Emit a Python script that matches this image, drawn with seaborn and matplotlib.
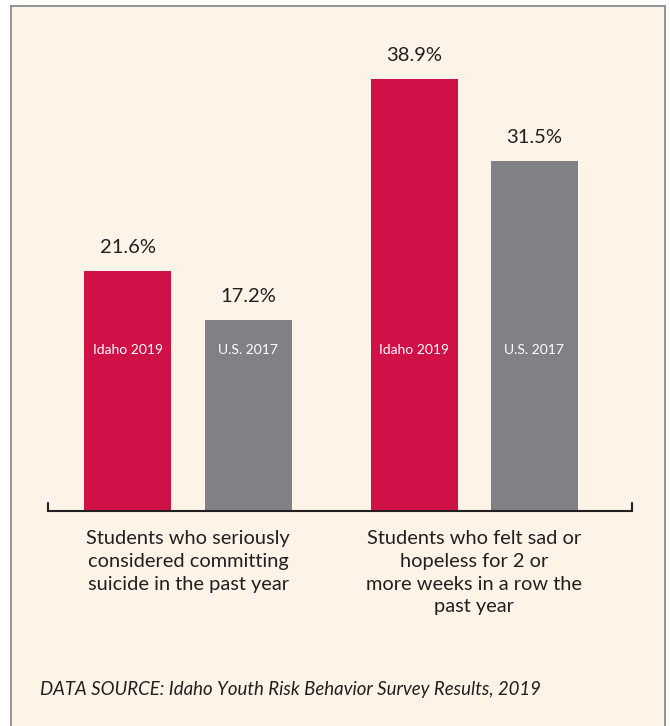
import matplotlib
matplotlib.use('Agg')
import matplotlib.pyplot as plt
import seaborn as sns
import pandas as pd
from matplotlib.patches import Rectangle

# data
categories = ['Students who seriously\nconsidered committing\nsuicide in the past year',
              'Students who felt sad or\nhopeless for 2 or\nmore weeks in a row the\npast year']
sources = ['Idaho 2019', 'U.S. 2017']
idaho = [21.6, 38.9]
us = [17.2, 31.5]

df = pd.DataFrame({
    'category': categories * 2,
    'source': [sources[0]] * 2 + [sources[1]] * 2,
    'value': idaho + us,
})

sns.set_style('white')
plt.rcParams['font.family'] = ['Lato', 'DejaVu Sans']

W, H = 670, 726
fig = plt.figure(figsize=(W / 100, H / 100), dpi=100)
fig.patch.set_facecolor('white')

# cream panel with thin border
fig.patches.append(Rectangle((11 / W, -0.01), (665 - 11) / W, (H - 6) / H + 0.01,
                             transform=fig.transFigure, facecolor='#FDF4E7',
                             edgecolor='#8a8a8a', linewidth=1.3, zorder=-5))

ax = fig.add_axes([48 / W, (H - 511) / H, 584 / W, 444 / H])
ax.set_zorder(2)
ax.set_facecolor('none')

palette = {'Idaho 2019': '#D01147', 'U.S. 2017': '#808184'}
sns.barplot(data=df, x='category', y='value', hue='source', palette=palette,
            width=0.84, gap=0.276, saturation=1, linewidth=0, ax=ax, legend=False)

ax.set_xlim(-0.4895, 1.552)
ax.set_ylim(0, 40)

for cont in ax.containers:
    ax.bar_label(cont, labels=[f'{v:.1f}%' for v in cont.datavalues],
                 padding=11, fontsize=14.5, color='#231F20')

for cont, name in zip(ax.containers, sources):
    for bar in cont:
        ax.text(bar.get_x() + bar.get_width() / 2, 14.5, name, ha='center',
                va='center', color='white', fontsize=10)

for s in ['top', 'right', 'left']:
    ax.spines[s].set_visible(False)
ax.spines['bottom'].set_color('#231F20')
ax.spines['bottom'].set_linewidth(1.5)
# end ticks of the baseline
ax.plot([0, 0], [0, 0.018], transform=ax.transAxes, color='#231F20', lw=1.5, clip_on=False)
ax.plot([1, 1], [0, 0.018], transform=ax.transAxes, color='#231F20', lw=1.5, clip_on=False)

ax.set_yticks([])
ax.set_xlabel('')
ax.set_ylabel('')
ax.tick_params(axis='x', length=0, pad=14, labelsize=14.4, labelcolor='#231F20')
for lab in ax.get_xticklabels():
    lab.set_linespacing(1.4)
    lab.set_verticalalignment('top')

fig.text(40 / W, 1 - 690 / H, 'DATA SOURCE: Idaho Youth Risk Behavior Survey Results, 2019',
         fontsize=13.4, style='italic', color='#231F20', va='center', ha='left')

fig.savefig('out.png', dpi=100, facecolor=fig.get_facecolor())
